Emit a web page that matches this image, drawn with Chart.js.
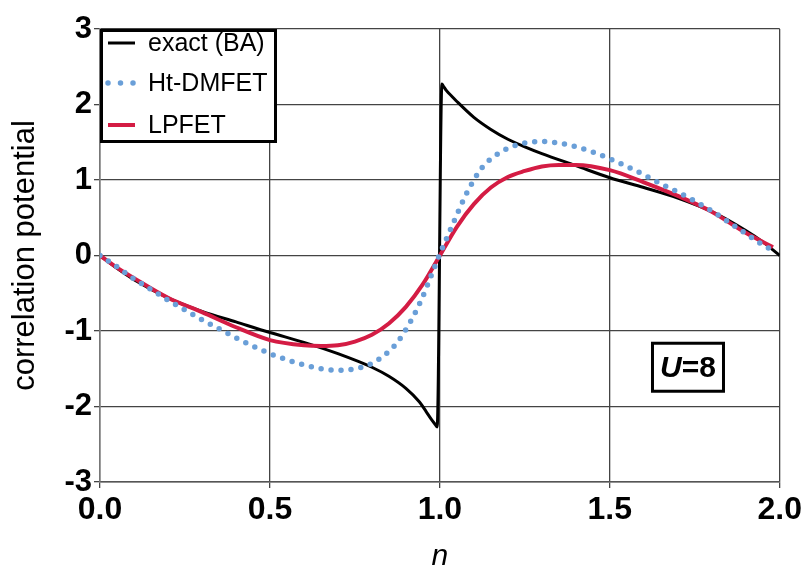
<!DOCTYPE html>
<html><head><meta charset="utf-8">
<script src="https://cdn.jsdelivr.net/npm/chart.js@4/dist/chart.umd.min.js"></script>
<style>html,body{margin:0;padding:0;background:#fff;} canvas{display:block}</style>
</head><body>
<canvas id="c" width="805" height="568"></canvas>
<script>
// ---- data ----
const exactN = [0, 0.05, 0.1, 0.2, 0.3, 0.4, 0.5, 0.6, 0.7, 0.8, 0.85, 0.9, 0.94, 0.96, 0.975, 0.985, 0.992,
                1.006, 1.01, 1.02, 1.035, 1.05, 1.1, 1.15, 1.2, 1.25, 1.3, 1.4, 1.5, 1.6, 1.7, 1.8, 1.9, 1.95, 2.0];
const exactV = [0, -0.17, -0.32, -0.56, -0.74, -0.88, -1.02, -1.15, -1.30, -1.48, -1.60, -1.76, -1.94, -2.07, -2.17, -2.23, -2.27,
                2.27, 2.245, 2.18, 2.11, 2.04, 1.83, 1.67, 1.54, 1.44, 1.35, 1.19, 1.03, 0.90, 0.76, 0.58, 0.33, 0.18, 0];

const htN = [0, 0.05, 0.1, 0.15, 0.2, 0.25, 0.3, 0.35, 0.4, 0.45, 0.5, 0.55, 0.6, 0.65, 0.7, 0.75, 0.8, 0.85,
             0.875, 0.9, 0.925, 0.95, 0.975, 1.0, 1.025, 1.05, 1.075, 1.1, 1.125, 1.15, 1.2, 1.25, 1.3, 1.35,
             1.4, 1.45, 1.5, 1.55, 1.6, 1.65, 1.7, 1.75, 1.8, 1.85, 1.9, 1.95, 1.97];
const htV = [0, -0.15, -0.31, -0.45, -0.59, -0.72, -0.85, -0.97, -1.09, -1.20, -1.30, -1.38, -1.45, -1.50, -1.52,
             -1.50, -1.43, -1.27, -1.15, -0.98, -0.78, -0.54, -0.26, 0.02, 0.28, 0.54, 0.79, 1.00, 1.17, 1.28,
             1.42, 1.49, 1.51, 1.49, 1.44, 1.37, 1.28, 1.18, 1.07, 0.95, 0.84, 0.72, 0.59, 0.44, 0.29, 0.14, 0.09];

const lpN = [0, 0.05, 0.1, 0.2, 0.3, 0.4, 0.5, 0.6, 0.65, 0.7, 0.75, 0.8, 0.85, 0.9, 0.95, 1.0,
             1.05, 1.1, 1.15, 1.2, 1.25, 1.3, 1.35, 1.4, 1.5, 1.6, 1.7, 1.8, 1.9, 1.98];
const lpV = [0, -0.16, -0.30, -0.56, -0.75, -0.95, -1.12, -1.19, -1.20, -1.19, -1.14, -1.05, -0.90, -0.68, -0.38, 0,
             0.38, 0.68, 0.90, 1.04, 1.12, 1.18, 1.20, 1.20, 1.13, 0.97, 0.79, 0.58, 0.30, 0.11];

const seriesNames = ['exact (BA)', 'Ht-DMFET', 'LPFET'];
const xTickValues = [0, 0.5, 1.0, 1.5, 2.0];
const yTickValues = [-3, -2, -1, 0, 1, 2, 3];
const xTitle = 'n';
const yTitle = 'correlation potential';
const boxLabelItalic = 'U';
const boxLabelRest = '=8';

// ---- rendering ----
const FONT = "Arial, 'Liberation Sans', Helvetica, sans-serif";
const pts = (xs, ys) => xs.map((x, i) => ({x: x, y: ys[i]}));

const legendPlugin = {
  id: 'boxLegend',
  afterDraw(chart) {
    const {ctx, chartArea} = chart;
    const L = chartArea.left, T = chartArea.top;
    const W = 177, H = 114;
    ctx.save();
    ctx.fillStyle = '#fff';
    ctx.fillRect(L, T, W, H);
    ctx.lineWidth = 3;
    ctx.strokeStyle = '#000';
    ctx.strokeRect(L + 1.5, T + 1.5, W - 3, H - 3);
    const rows = [14, 54, 96];
    [0, 1, 2].forEach((di, r) => {
      const ds = chart.data.datasets[di];
      const y = T + rows[r];
      ctx.save();
      ctx.strokeStyle = ds.borderColor;
      ctx.lineWidth = ds.borderWidth;
      ctx.lineCap = ds.borderCapStyle || 'butt';
      ctx.setLineDash(ds.legendDash || []);
      ctx.beginPath();
      ctx.moveTo(L + 8, y);
      ctx.lineTo(L + 35, y);
      ctx.stroke();
      ctx.restore();
      ctx.fillStyle = '#000';
      ctx.font = '25px ' + FONT;
      ctx.textBaseline = 'middle';
      ctx.textAlign = 'left';
      ctx.fillText(ds.label, L + 48, y + 1);
    });
    ctx.restore();
  }
};

const boxLabelPlugin = {
  id: 'boxLabel',
  afterDatasetsDraw(chart) {
    const {ctx} = chart;
    const cx = chart.scales.x.getPixelForValue(1.73);
    const cy = chart.scales.y.getPixelForValue(-1.48);
    const W = 71, H = 48;
    ctx.save();
    ctx.fillStyle = '#fff';
    ctx.fillRect(cx - W / 2, cy - H / 2, W, H);
    ctx.lineWidth = 3;
    ctx.strokeStyle = '#000';
    ctx.strokeRect(cx - W / 2, cy - H / 2, W, H);
    const f1 = 'italic bold 30px ' + FONT, f2 = 'bold 30px ' + FONT;
    ctx.font = f1; const w1 = ctx.measureText(boxLabelItalic).width;
    ctx.font = f2; const w2 = ctx.measureText(boxLabelRest).width;
    const x = cx - (w1 + w2) / 2;
    ctx.fillStyle = '#000';
    ctx.textBaseline = 'middle';
    ctx.textAlign = 'left';
    ctx.font = f1; ctx.fillText(boxLabelItalic, x, cy + 1);
    ctx.font = f2; ctx.fillText(boxLabelRest, x + w1, cy + 1);
    ctx.restore();
  }
};

new Chart(document.getElementById('c'), {
  type: 'line',
  data: {
    datasets: [
      {label: seriesNames[0], data: pts(exactN, exactV), borderColor: '#000000', borderWidth: 3,
       pointRadius: 0, cubicInterpolationMode: 'monotone', order: 2},
      {label: seriesNames[1], data: pts(htN, htV), borderColor: '#6a9fd8', borderWidth: 5.5,
       borderDash: [0, 10], borderCapStyle: 'round', legendDash: [0, 12.5],
       pointRadius: 0, cubicInterpolationMode: 'monotone', order: 0},
      {label: seriesNames[2], data: pts(lpN, lpV), borderColor: '#d41c44', borderWidth: 4,
       pointRadius: 0, cubicInterpolationMode: 'monotone', order: 1}
    ]
  },
  options: {
    responsive: false,
    animation: false,
    events: [],
    layout: {padding: {left: 0, right: 25, top: 29, bottom: 0}},
    plugins: {legend: {display: false}, tooltip: {enabled: false}},
    scales: {
      x: {
        type: 'linear', min: 0, max: 2,
        afterBuildTicks: s => { s.ticks = xTickValues.map(v => ({value: v})); },
        afterFit: s => { s.height = 86; },
        ticks: {callback: v => Number(v).toFixed(1), color: '#000', padding: 3, maxRotation: 0, autoSkip: false,
                font: {family: FONT, size: 32, weight: 'bold'}},
        grid: {color: '#444', lineWidth: 1.3, tickLength: 6, drawTicks: true},
        border: {color: '#555', width: 1.5},
        title: {display: true, text: xTitle, color: '#000', padding: {top: 0, bottom: -4},
                font: {family: FONT, size: 30, style: 'italic', lineHeight: 1}}
      },
      y: {
        type: 'linear', min: -3, max: 3,
        afterBuildTicks: s => { s.ticks = yTickValues.map(v => ({value: v})); },
        afterFit: s => { s.width = 100; },
        ticks: {callback: v => String(v), color: '#000', padding: 2,
                font: {family: FONT, size: 31, weight: 'bold'}},
        grid: {color: '#444', lineWidth: 1.3, tickLength: 6, drawTicks: true},
        border: {color: '#777', width: 1.5},
        title: {display: true, text: yTitle, color: '#000', padding: {top: 10, bottom: 0},
                font: {family: FONT, size: 31, lineHeight: 1}}
      }
    }
  },
  plugins: [boxLabelPlugin, legendPlugin]
});
</script>
</body></html>
